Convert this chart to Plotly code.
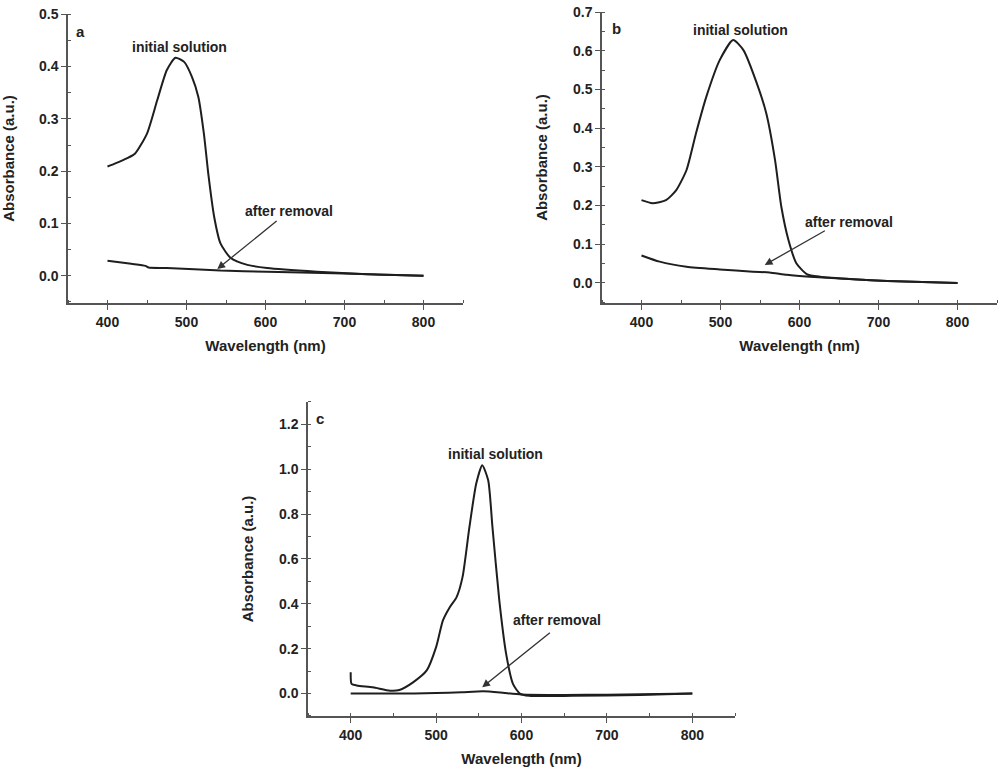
import plotly.graph_objects as go

# ---- Data ----
# Panel a
a_init_x = [400, 410, 425, 435, 450, 463, 475, 486, 497, 507, 515, 522, 528, 535, 543, 556, 577, 602, 665, 729, 800]
a_init_y = [0.209, 0.215, 0.225, 0.234, 0.272, 0.336, 0.393, 0.417, 0.409, 0.380, 0.342, 0.272, 0.190, 0.113, 0.062, 0.034, 0.021, 0.015, 0.008, 0.003, 0.000]
a_after_x = [400, 430, 448, 452, 475, 543, 602, 686, 800]
a_after_y = [0.029, 0.023, 0.019, 0.016, 0.015, 0.010, 0.008, 0.005, 0.000]

# Panel b
b_init_x = [400, 414, 431, 444, 457, 469, 482, 499, 516, 529, 546, 558, 569, 577, 586, 596, 609, 626, 668, 711, 800]
b_init_y = [0.214, 0.206, 0.214, 0.240, 0.292, 0.387, 0.481, 0.576, 0.628, 0.602, 0.516, 0.438, 0.318, 0.197, 0.111, 0.051, 0.023, 0.016, 0.0095, 0.005, 0.000]
b_after_x = [400, 423, 457, 499, 541, 562, 584, 613, 668, 711, 800]
b_after_y = [0.071, 0.055, 0.042, 0.035, 0.029, 0.027, 0.021, 0.016, 0.0095, 0.005, 0.000]

# Panel c
c_init_x = [400, 401, 407, 426, 446, 457, 473, 489, 500, 508, 516, 524, 531, 539, 547, 554, 561, 566, 574, 582, 590, 598, 609, 660, 738, 800]
c_init_y = [0.095, 0.043, 0.036, 0.028, 0.013, 0.016, 0.050, 0.103, 0.207, 0.326, 0.385, 0.430, 0.520, 0.742, 0.936, 1.018, 0.951, 0.742, 0.415, 0.177, 0.043, 0.000, -0.010, -0.010, -0.006, 0.000]
c_after_x = [400, 450, 500, 530, 555, 575, 600, 650, 700, 800]
c_after_y = [0.000, 0.000, 0.002, 0.006, 0.010, 0.005, -0.004, -0.006, -0.005, 0.000]

x_ticks = [400, 500, 600, 700, 800]

LINE = "#1e1e1e"
AX = "#555555"
FONT = "Liberation Sans"
TXT = "#222222"

fig = go.Figure()

panels = [
    ("x", "y", a_init_x, a_init_y, a_after_x, a_after_y),
    ("x2", "y2", b_init_x, b_init_y, b_after_x, b_after_y),
    ("x3", "y3", c_init_x, c_init_y, c_after_x, c_after_y),
]
for xa, ya, ix, iy, axx, ayy in panels:
    fig.add_trace(go.Scatter(x=ix, y=iy, mode="lines", line=dict(color=LINE, width=2, shape="spline", smoothing=0.6),
                             xaxis=xa, yaxis=ya, showlegend=False, name="initial solution"))
    fig.add_trace(go.Scatter(x=axx, y=ayy, mode="lines", line=dict(color=LINE, width=2, shape="spline", smoothing=0.6),
                             xaxis=xa, yaxis=ya, showlegend=False, name="after removal"))

def xaxis_cfg(domain, anchor):
    return dict(domain=domain, anchor=anchor, range=[350, 850], tickvals=x_ticks, automargin=False,
                showline=True, linecolor=AX, linewidth=1.5, ticks="outside", ticklen=5,
                tickcolor=AX, tickwidth=1.2, showgrid=False, zeroline=False, ticklabeloverflow="allow",
                minor=dict(dtick=50, ticks="inside", ticklen=3, tickcolor=AX, tickwidth=1.2, showgrid=False),
                tickfont=dict(family=FONT, size=14, color=TXT, weight="bold"),
                title=dict(text="Wavelength (nm)", font=dict(family=FONT, size=15, color=TXT, weight="bold"), standoff=12))

def yaxis_cfg(domain, anchor, rng, dtick, minor, fmt):
    return dict(domain=domain, anchor=anchor, range=rng, dtick=dtick, tick0=0, tickformat=fmt, automargin=False,
                showline=True, linecolor=AX, linewidth=1.5, ticks="outside", ticklen=5,
                tickcolor=AX, tickwidth=1.2, showgrid=False, zeroline=False, ticklabeloverflow="allow",
                minor=dict(dtick=minor, tick0=0, ticks="inside", ticklen=3, tickcolor=AX, tickwidth=1.2, showgrid=False),
                tickfont=dict(family=FONT, size=14, color=TXT, weight="bold"),
                title=dict(text="Absorbance (a.u.)", font=dict(family=FONT, size=15, color=TXT, weight="bold"), standoff=22))

fig.update_layout(
    width=1000, height=779, margin=dict(l=0, r=0, t=0, b=0, autoexpand=False),
    paper_bgcolor="white", plot_bgcolor="white",
    xaxis=xaxis_cfg([0.068, 0.463], "y"),
    yaxis=yaxis_cfg([0.611, 0.982], "x", [-0.052, 0.5005], 0.1, 0.05, ".1f"),
    xaxis2=xaxis_cfg([0.602, 0.997], "y2"),
    yaxis2=yaxis_cfg([0.611, 0.9846], "x2", [-0.052, 0.7005], 0.1, 0.05, ".1f"),
    xaxis3=xaxis_cfg([0.308, 0.735], "y3"),
    yaxis3=yaxis_cfg([0.0809, 0.484], "x3", [-0.1, 1.3], 0.2, 0.1, ".1f"),
)

def txt(xref, yref, x, y, s, size=14):
    fig.add_annotation(x=x, y=y, xref=xref, yref=yref, text=s, showarrow=False,
                       font=dict(family=FONT, size=size, color=TXT, weight="bold"))

def arrow(xref, yref, tx, ty, hx, hy):
    fig.add_annotation(x=hx, y=hy, ax=tx, ay=ty, xref=xref, yref=yref, axref=xref, ayref=yref,
                       text="", showarrow=True, arrowhead=2, arrowsize=1.2, arrowwidth=1.3, arrowcolor="#333")

# Panel a
txt("x", "y", 366, 0.468, "a", 15)
txt("x", "y", 491, 0.437, "initial solution")
txt("x", "y", 630, 0.124, "after removal")
arrow("x", "y", 616, 0.107, 539, 0.013)
# Panel b
txt("x2", "y2", 368, 0.659, "b", 15)
txt("x2", "y2", 525, 0.654, "initial solution")
txt("x2", "y2", 663, 0.158, "after removal")
arrow("x2", "y2", 634, 0.137, 556, 0.0465)
# Panel c
txt("x3", "y3", 364, 1.226, "c", 15)
txt("x3", "y3", 570, 1.07, "initial solution")
txt("x3", "y3", 642, 0.326, "after removal")
arrow("x3", "y3", 635, 0.277, 554, 0.028)

# remove the default page margin so the 1000x779 figure fills the window exactly
fig.write_html("out.html", config={"displayModeBar": False},
               post_script="document.body.style.margin='0';document.body.style.overflow='hidden';")
